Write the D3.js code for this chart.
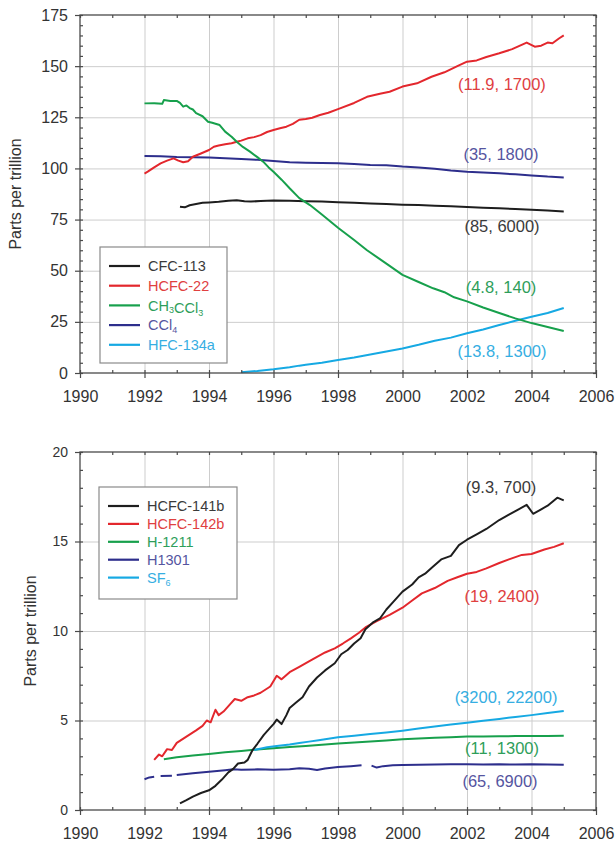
<!DOCTYPE html>
<html>
<head>
<meta charset="utf-8">
<script src="https://cdn.jsdelivr.net/npm/d3@7"></script>
<style>
  body { margin: 0; background: #fff; }
  text { font-family: "Liberation Sans", Arial, Helvetica, sans-serif; }
</style>
</head>
<body>
<div id="container"></div>
<script>
// ---- top panel series: [year, ppt] ----
const cfc113 = [[1993.1,81.3],[1993.25,81.0],[1993.4,82.0],[1993.6,82.6],[1993.8,83.2],[1994.0,83.4],[1994.3,83.7],[1994.6,84.2],[1994.86,84.5],[1995.1,84.0],[1995.3,83.8],[1995.6,84.1],[1996.0,84.3],[1996.5,84.2],[1997.0,84.0],[1997.5,83.8],[1998.0,83.5],[1998.5,83.2],[1999.0,82.9],[1999.5,82.6],[2000.0,82.3],[2000.5,82.1],[2001.0,81.8],[2001.5,81.5],[2002.0,81.2],[2002.5,80.8],[2003.0,80.5],[2003.5,80.2],[2004.0,79.8],[2004.5,79.4],[2005.0,79.0]];
const hcfc22 = [[1992.0,97.5],[1992.1,98.4],[1992.3,100.5],[1992.5,102.5],[1992.7,103.8],[1992.9,104.9],[1993.05,103.8],[1993.2,103.0],[1993.35,103.5],[1993.5,105.7],[1993.75,107.3],[1994.0,109.0],[1994.15,110.6],[1994.3,111.2],[1994.5,111.8],[1994.7,112.3],[1994.86,113.0],[1995.0,113.6],[1995.2,114.7],[1995.4,115.3],[1995.6,116.3],[1995.8,117.8],[1996.0,118.8],[1996.2,119.6],[1996.4,120.4],[1996.6,121.8],[1996.8,123.8],[1997.0,124.2],[1997.2,124.8],[1997.44,126.1],[1997.7,127.2],[1998.0,129.0],[1998.5,132.0],[1998.9,135.0],[1999.3,136.5],[1999.6,137.5],[2000.0,140.0],[2000.45,141.6],[2000.9,144.8],[2001.3,147.0],[2001.7,150.0],[2002.0,152.2],[2002.3,152.8],[2002.6,154.5],[2003.0,156.3],[2003.4,158.3],[2003.85,161.5],[2004.1,159.5],[2004.3,160.0],[2004.5,161.5],[2004.65,161.2],[2004.85,163.5],[2005.0,165.0]];
const ch3ccl3 = [[1992.0,131.8],[1992.3,131.9],[1992.55,131.6],[1992.6,133.4],[1992.8,133.0],[1993.0,133.0],[1993.1,132.0],[1993.2,130.2],[1993.3,130.8],[1993.4,129.5],[1993.5,128.8],[1993.6,127.0],[1993.8,125.5],[1993.97,122.8],[1994.1,122.3],[1994.33,121.2],[1994.5,118.0],[1994.7,115.5],[1994.86,113.0],[1995.05,110.5],[1995.27,108.2],[1995.5,105.5],[1995.68,103.3],[1995.85,100.5],[1996.0,98.4],[1996.25,94.5],[1996.5,90.3],[1996.8,85.5],[1997.13,82.1],[1997.5,77.5],[1998.0,71.0],[1998.5,65.0],[1998.9,60.0],[1999.5,53.5],[2000.0,48.0],[2000.5,44.5],[2000.95,41.4],[2001.3,39.5],[2001.6,37.0],[2002.0,35.0],[2002.5,32.0],[2003.0,29.3],[2003.5,26.7],[2004.0,24.4],[2004.5,22.5],[2005.0,20.5]];
const ccl4 = [[1992.0,106.1],[1992.5,105.9],[1993.0,105.6],[1993.5,105.5],[1994.0,105.3],[1994.5,105.0],[1995.0,104.6],[1995.5,104.2],[1996.0,103.6],[1996.5,103.0],[1997.0,102.8],[1997.5,102.6],[1998.0,102.5],[1998.5,102.2],[1999.0,101.7],[1999.5,101.5],[2000.0,100.9],[2000.5,100.5],[2001.0,99.8],[2001.5,99.0],[2002.0,98.4],[2002.5,98.0],[2003.0,97.6],[2003.5,97.1],[2004.0,96.6],[2004.5,96.0],[2005.0,95.6]];
const hfc134a = [[1995.0,0.4],[1995.5,1.0],[1996.0,1.8],[1996.5,2.8],[1996.8,3.6],[1997.0,4.0],[1997.5,5.0],[1998.0,6.4],[1998.5,7.6],[1999.0,9.0],[1999.5,10.5],[2000.0,12.0],[2000.5,13.8],[2001.0,15.8],[2001.5,17.3],[2002.0,19.4],[2002.5,21.3],[2003.0,23.5],[2003.5,25.5],[2004.0,27.5],[2004.5,29.3],[2005.0,31.8]];

// ---- bottom panel series ----
const hcfc141b = [[1993.1,0.37],[1993.3,0.55],[1993.5,0.75],[1993.75,0.95],[1994.0,1.1],[1994.2,1.35],[1994.4,1.7],[1994.6,2.1],[1994.75,2.3],[1994.9,2.6],[1995.1,2.65],[1995.2,2.8],[1995.35,3.35],[1995.5,3.7],[1995.7,4.2],[1995.9,4.6],[1996.0,4.8],[1996.1,5.05],[1996.25,4.8],[1996.4,5.3],[1996.5,5.7],[1996.7,6.0],[1996.9,6.3],[1997.1,6.9],[1997.35,7.4],[1997.6,7.8],[1997.9,8.2],[1998.1,8.7],[1998.3,8.94],[1998.5,9.3],[1998.7,9.6],[1998.85,10.1],[1999.1,10.5],[1999.3,10.7],[1999.5,11.2],[1999.7,11.6],[2000.0,12.2],[2000.3,12.6],[2000.5,13.0],[2000.7,13.2],[2000.95,13.6],[2001.2,14.0],[2001.5,14.2],[2001.75,14.8],[2002.0,15.1],[2002.3,15.4],[2002.6,15.7],[2003.0,16.2],[2003.3,16.5],[2003.6,16.8],[2003.85,17.05],[2004.05,16.55],[2004.3,16.8],[2004.5,17.0],[2004.8,17.45],[2005.0,17.3]];
const hcfc142b = [[1992.3,2.8],[1992.45,3.1],[1992.55,3.0],[1992.7,3.4],[1992.85,3.35],[1993.0,3.75],[1993.3,4.1],[1993.6,4.45],[1993.8,4.7],[1993.93,5.0],[1994.05,4.9],[1994.2,5.6],[1994.3,5.3],[1994.45,5.5],[1994.65,5.9],[1994.8,6.2],[1995.0,6.1],[1995.2,6.3],[1995.4,6.4],[1995.6,6.55],[1995.9,6.9],[1996.1,7.5],[1996.25,7.3],[1996.5,7.7],[1996.8,8.0],[1997.1,8.3],[1997.35,8.56],[1997.6,8.8],[1997.9,9.03],[1998.15,9.3],[1998.4,9.59],[1998.65,9.9],[1998.85,10.2],[1999.2,10.55],[1999.6,10.9],[2000.0,11.3],[2000.3,11.7],[2000.6,12.1],[2001.0,12.4],[2001.4,12.8],[2001.7,13.0],[2002.0,13.2],[2002.3,13.3],[2002.6,13.5],[2003.0,13.8],[2003.3,14.0],[2003.7,14.25],[2004.0,14.3],[2004.4,14.55],[2004.7,14.7],[2005.0,14.9]];
const h1211 = [[1992.6,2.83],[1993.0,2.95],[1993.5,3.05],[1994.0,3.13],[1994.5,3.22],[1995.0,3.3],[1995.5,3.38],[1996.0,3.45],[1996.5,3.52],[1997.0,3.58],[1997.5,3.65],[1998.0,3.72],[1998.5,3.77],[1999.0,3.82],[1999.5,3.88],[2000.0,3.95],[2000.5,4.0],[2001.0,4.04],[2001.5,4.07],[2002.0,4.1],[2002.5,4.11],[2003.0,4.12],[2003.5,4.13],[2004.0,4.13],[2004.5,4.14],[2005.0,4.15]];
const h1301 = [[1992.0,1.72],[1992.15,1.82],[1992.3,1.86],[1992.4,null],[1992.5,1.9],[1992.85,1.92],[1992.9,null],[1993.0,1.96],[1993.5,2.05],[1994.0,2.14],[1994.5,2.22],[1994.75,2.27],[1995.0,2.25],[1995.5,2.27],[1996.0,2.25],[1996.5,2.28],[1996.8,2.33],[1997.1,2.3],[1997.35,2.24],[1997.6,2.32],[1998.0,2.4],[1998.4,2.45],[1998.73,2.5],[1998.8,null],[1999.04,2.48],[1999.2,2.37],[1999.4,2.45],[1999.7,2.5],[2000.0,2.52],[2000.5,2.53],[2001.0,2.54],[2001.5,2.55],[2002.0,2.55],[2002.5,2.54],[2003.0,2.55],[2003.5,2.54],[2004.0,2.55],[2004.5,2.54],[2005.0,2.53]];
const sf6 = [[1995.4,3.35],[1995.8,3.5],[1996.1,3.58],[1996.5,3.66],[1996.8,3.74],[1997.1,3.82],[1997.4,3.9],[1997.75,4.0],[1998.0,4.06],[1998.5,4.15],[1999.0,4.25],[1999.5,4.33],[2000.0,4.43],[2000.5,4.55],[2001.0,4.67],[2001.5,4.77],[2002.0,4.88],[2002.5,4.98],[2003.0,5.09],[2003.5,5.2],[2004.0,5.3],[2004.5,5.42],[2005.0,5.53]];

// legend names ({n} = subscript) and lifetime/GWP notes
const topNames = ["CFC-113", "HCFC-22", "CH{3}CCl{3}", "CCl{4}", "HFC-134a"];
const topNotes = ["(85, 6000)", "(11.9, 1700)", "(4.8, 140)", "(35, 1800)", "(13.8, 1300)"];
const bottomNames = ["HCFC-141b", "HCFC-142b", "H-1211", "H1301", "SF{6}"];
const bottomNotes = ["(9.3, 700)", "(19, 2400)", "(11, 1300)", "(65, 6900)", "(3200, 22200)"];

const lineColors = ["#1e1e1e", "#e3272d", "#17a04c", "#2d2e8c", "#16a9e3"];
const textColors = ["#3a3a3a", "#e0403f", "#2e9e5a", "#55559f", "#36aee2"];

const svg = d3.select("#container").append("svg")
    .attr("width", 615)
    .attr("height", 845)
    .style("background", "#fff");

function drawPanel(seriesList, names, notes, {
    top, bottom, left = 80, right = 596,
    yMax, yStep, yMinor, yFont = 16,
    titleX, legend, notePos, order
  }) {

    const x = d3.scaleLinear().domain([1990, 2006]).range([left, right]);
    const y = d3.scaleLinear().domain([0, yMax]).range([bottom, top]);

    const majorX = d3.range(1990, 2007, 2);
    const minorX = d3.range(1990, 2007, 1);
    const majorY = d3.range(0, yMax + 0.001, yStep);
    const minorY = d3.range(0, yMax + 0.001, yMinor);

    const g = svg.append("g");

    // grid
    g.append("g")
        .attr("transform", "translate(0," + bottom + ")")
        .call(d3.axisBottom(x).tickValues(majorX.slice(1, -1)).tickSize(-(bottom - top)).tickFormat(""))
        .call(s => s.select(".domain").remove())
        .selectAll("line").attr("stroke", "#cdcdcd");
    g.append("g")
        .attr("transform", "translate(" + left + ",0)")
        .call(d3.axisLeft(y).tickValues(majorY.slice(1, -1)).tickSize(-(right - left)).tickFormat(""))
        .call(s => s.select(".domain").remove())
        .selectAll("line").attr("stroke", "#cdcdcd");

    // series
    const line = d3.line()
        .defined(function(d) { return d[1] !== null; })
        .x(function(d) { return x(d[0]); })
        .y(function(d) { return y(d[1]); });

    g.append("g").selectAll("path")
        .data(order)
        .enter().append("path")
        .attr("d", function(i) { return line(seriesList[i]); })
        .attr("fill", "none")
        .attr("stroke", function(i) { return lineColors[i]; })
        .attr("stroke-width", 2)
        .attr("stroke-linejoin", "round");

    // frame + ticks
    g.append("rect")
        .attr("x", left).attr("y", top)
        .attr("width", right - left).attr("height", bottom - top)
        .attr("fill", "none").attr("stroke", "#4a4a4a").attr("stroke-width", 1.3);

    const tickStyle = s => {
        s.select(".domain").remove();
        s.selectAll("line").attr("stroke", "#4a4a4a").attr("stroke-width", 1.2);
        s.selectAll("text").attr("fill", "#333").style("font-family", '"Liberation Sans", Arial, sans-serif');
    };

    g.append("g")
        .attr("transform", "translate(0," + bottom + ")")
        .call(d3.axisBottom(x).tickValues(majorX).tickSize(5).tickPadding(13).tickFormat(d3.format("d")))
        .call(tickStyle)
        .selectAll("text").style("font-size", "16px");
    g.append("g")
        .attr("transform", "translate(0," + bottom + ")")
        .call(d3.axisBottom(x).tickValues(minorX).tickSize(-3).tickFormat(""))
        .call(tickStyle);
    g.append("g")
        .attr("transform", "translate(0," + top + ")")
        .call(d3.axisTop(x).tickValues(minorX).tickSize(-3).tickFormat(""))
        .call(tickStyle);
    g.append("g")
        .attr("transform", "translate(" + left + ",0)")
        .call(d3.axisLeft(y).tickValues(majorY).tickSize(5).tickPadding(7))
        .call(tickStyle)
        .selectAll("text").style("font-size", yFont + "px");
    g.append("g")
        .attr("transform", "translate(" + left + ",0)")
        .call(d3.axisLeft(y).tickValues(minorY).tickSize(-3).tickFormat(""))
        .call(tickStyle);
    g.append("g")
        .attr("transform", "translate(" + right + ",0)")
        .call(d3.axisRight(y).tickValues(minorY).tickSize(-3).tickFormat(""))
        .call(tickStyle);

    // y title
    g.append("text")
        .attr("transform", "translate(" + titleX + "," + (top + bottom) / 2 + ") rotate(-90)")
        .attr("text-anchor", "middle")
        .attr("dy", "0.35em")
        .style("font-size", "16px")
        .attr("fill", "#333")
        .text("Parts per trillion");

    // legend
    g.append("rect")
        .attr("x", legend.x).attr("y", legend.y)
        .attr("width", legend.w).attr("height", legend.h)
        .attr("fill", "#fff").attr("stroke", "#8a8a8a").attr("stroke-width", 1.2);

    const rows = g.append("g").selectAll("g")
        .data(names)
        .enter().append("g")
        .attr("transform", function(d, i) { return "translate(" + legend.x + "," + (legend.row0 + i * legend.step) + ")"; });

    rows.append("line")
        .attr("x1", 9).attr("x2", 40)
        .attr("stroke", function(d, i) { return lineColors[i]; })
        .attr("stroke-width", 2.2);

    rows.append("text")
        .attr("x", 48)
        .attr("dy", "0.36em")
        .style("font-size", "14.5px")
        .attr("fill", function(d, i) { return textColors[i]; })
        .each(function(name) {
            const t = d3.select(this);
            name.split(/\{(\d+)\}/).forEach(function(part, k) {
                if (!part) return;
                if (k % 2) {
                    t.append("tspan").attr("dy", "0.3em").style("font-size", "9px").text(part);
                    t.append("tspan").attr("dy", "-0.3em").text("");
                } else {
                    t.append("tspan").text(part);
                }
            });
        });

    // notes
    g.append("g").selectAll("text")
        .data(notes)
        .enter().append("text")
        .attr("x", function(d, i) { return notePos[i][0]; })
        .attr("y", function(d, i) { return notePos[i][1]; })
        .attr("dy", "0.36em")
        .attr("text-anchor", "middle")
        .style("font-size", "16.5px")
        .attr("fill", function(d, i) { return textColors[i]; })
        .text(function(d) { return d; });
}

drawPanel([cfc113, hcfc22, ch3ccl3, ccl4, hfc134a], topNames, topNotes, {
    top: 15, bottom: 373,
    yMax: 175, yStep: 25, yMinor: 5, yFont: 16,
    titleX: 15,
    legend: { x: 100, y: 247, w: 127, h: 116, row0: 266, step: 19.7 },
    notePos: [[502, 226], [502, 84], [501, 287], [501, 154], [502, 351]],
    order: [0, 3, 1, 4, 2]
});

drawPanel([hcfc141b, hcfc142b, h1211, h1301, sf6], bottomNames, bottomNotes, {
    top: 452, bottom: 810,
    yMax: 20, yStep: 5, yMinor: 1, yFont: 14,
    titleX: 30,
    legend: { x: 99, y: 487, w: 138, h: 112, row0: 506, step: 17.9 },
    notePos: [[501, 487], [502, 596], [502, 748], [500, 781], [506, 697]],
    order: [3, 2, 4, 1, 0]
});
</script>
</body>
</html>
